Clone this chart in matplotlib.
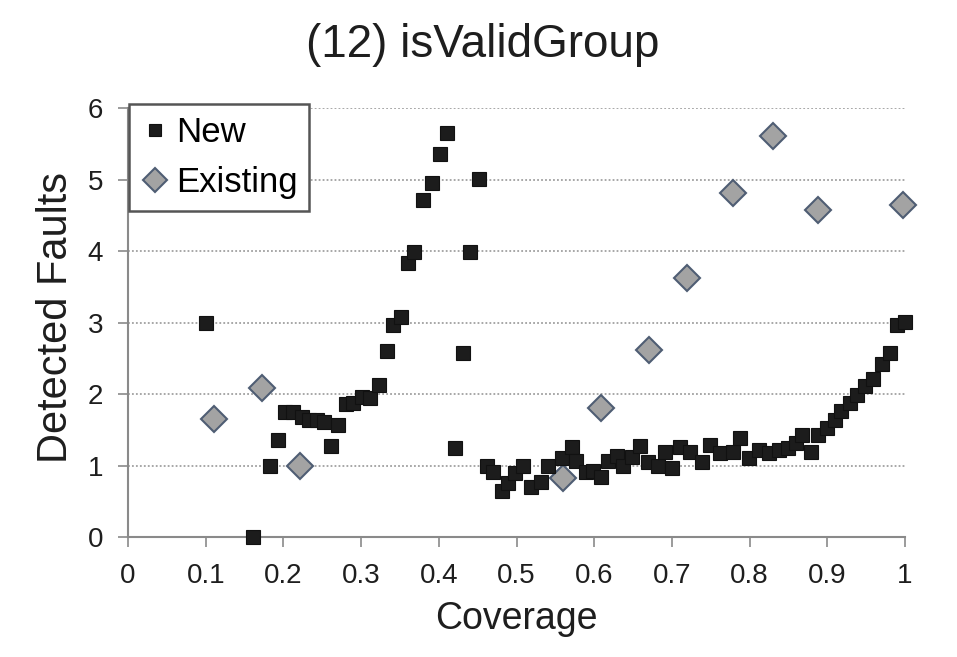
import matplotlib.pyplot as plt
import numpy as np

plt.rcParams['font.family'] = ['Liberation Sans', 'DejaVu Sans']

# "New" series (squares)
new_cov = [0.100, 0.161, 0.183, 0.193, 0.202, 0.212, 0.224, 0.233, 0.243, 0.252,
           0.261, 0.270, 0.281, 0.290, 0.301, 0.311, 0.323, 0.333, 0.341, 0.351,
           0.360, 0.368, 0.380, 0.391, 0.401, 0.411, 0.421, 0.431, 0.440, 0.452,
           0.462, 0.470, 0.481, 0.489, 0.498, 0.508, 0.519, 0.532, 0.541, 0.558,
           0.571, 0.577, 0.590, 0.598, 0.609, 0.618, 0.629, 0.637, 0.648, 0.659,
           0.669, 0.682, 0.691, 0.700, 0.710, 0.723, 0.739, 0.749, 0.762, 0.778,
           0.788, 0.799, 0.812, 0.825, 0.838, 0.849, 0.860, 0.868, 0.879, 0.888,
           0.899, 0.910, 0.918, 0.929, 0.938, 0.949, 0.959, 0.970, 0.981, 0.990,
           1.000]
new_faults = [3.00, 0.00, 1.00, 1.36, 1.75, 1.75, 1.68, 1.64, 1.63, 1.61,
              1.28, 1.56, 1.86, 1.88, 1.96, 1.94, 2.12, 2.60, 2.96, 3.08,
              3.83, 3.99, 4.71, 4.95, 5.35, 5.65, 1.24, 2.57, 3.99, 5.01,
              1.00, 0.91, 0.65, 0.75, 0.89, 1.00, 0.70, 0.77, 1.00, 1.10,
              1.26, 1.07, 0.91, 0.93, 0.84, 1.07, 1.14, 1.00, 1.12, 1.28,
              1.05, 1.00, 1.19, 0.96, 1.26, 1.19, 1.05, 1.29, 1.17, 1.19,
              1.38, 1.10, 1.22, 1.17, 1.22, 1.24, 1.31, 1.43, 1.19, 1.43,
              1.52, 1.64, 1.76, 1.88, 1.99, 2.11, 2.21, 2.42, 2.58, 2.96,
              3.01]

# "Existing" series (diamonds)
old_cov = [0.111, 0.172, 0.221, 0.560, 0.609, 0.670, 0.720, 0.779, 0.830, 0.888, 0.998]
old_faults = [1.65, 2.09, 1.00, 0.82, 1.80, 2.62, 3.62, 4.81, 5.61, 4.58, 4.64]

xticks = np.arange(0, 1.01, 0.1)
xtick_labels = ['0', '0.1', '0.2', '0.3', '0.4', '0.5', '0.6', '0.7', '0.8', '0.9', '1']
yticks = [0, 1, 2, 3, 4, 5, 6]

txt = '#1e1e1e'

fig = plt.figure(figsize=(9.57, 6.57), dpi=100)
ax = fig.add_axes([0.1338, 0.1826, 0.8119, 0.653])

ax.plot(old_cov, old_faults, 'D', ms=13, mfc='#a3a3a3', mec='#4f5d73', mew=1.5,
        ls='none', label='Existing', clip_on=False, zorder=3)
ax.plot(new_cov, new_faults, 's', ms=10, mfc='#1c1c1c', mec='#111111', mew=0.8,
        ls='none', label='New', clip_on=False, zorder=4)

ax.set_xlim(0, 1)
ax.set_ylim(0, 6)
ax.set_xticks(xticks)
ax.set_xticklabels(xtick_labels)
ax.set_yticks(yticks)

for s in ['top', 'right']:
    ax.spines[s].set_visible(False)
for s in ['left', 'bottom']:
    ax.spines[s].set_color('#8a8a8a')
    ax.spines[s].set_linewidth(1.5)

ax.tick_params(axis='both', direction='out', length=7, width=1.2, color='#8a8a8a',
               labelsize=20, labelcolor=txt)
ax.tick_params(axis='x', pad=12)
ax.tick_params(axis='y', pad=11)
ax.yaxis.grid(True, color='#a0a0a0', linestyle=(0, (1, 1.2)), linewidth=1.3)
ax.set_axisbelow(True)

fig.text(0.5397, 0.043, 'Coverage', fontsize=27, color=txt, ha='center', va='baseline')
fig.text(0.0585, 0.517, 'Detected Faults', fontsize=30, color=txt, rotation=90,
         ha='center', va='center')
fig.text(0.504, 0.913, '(12) isValidGroup', fontsize=33, color=txt,
         ha='center', va='baseline')

h, l = ax.get_legend_handles_labels()
leg = ax.legend(h[::-1], l[::-1], loc='upper left', bbox_to_anchor=(0.001, 1.01),
                borderaxespad=0, fontsize=25, fancybox=False, framealpha=1,
                edgecolor='#555555', handletextpad=0.2, handlelength=0.8,
                borderpad=0.35, labelspacing=0.5)
leg.get_frame().set_linewidth(1.8)
leg.legend_handles[0].set_markersize(8.5)
leg.legend_handles[1].set_markersize(12)

fig.savefig('out.png', dpi=100)
